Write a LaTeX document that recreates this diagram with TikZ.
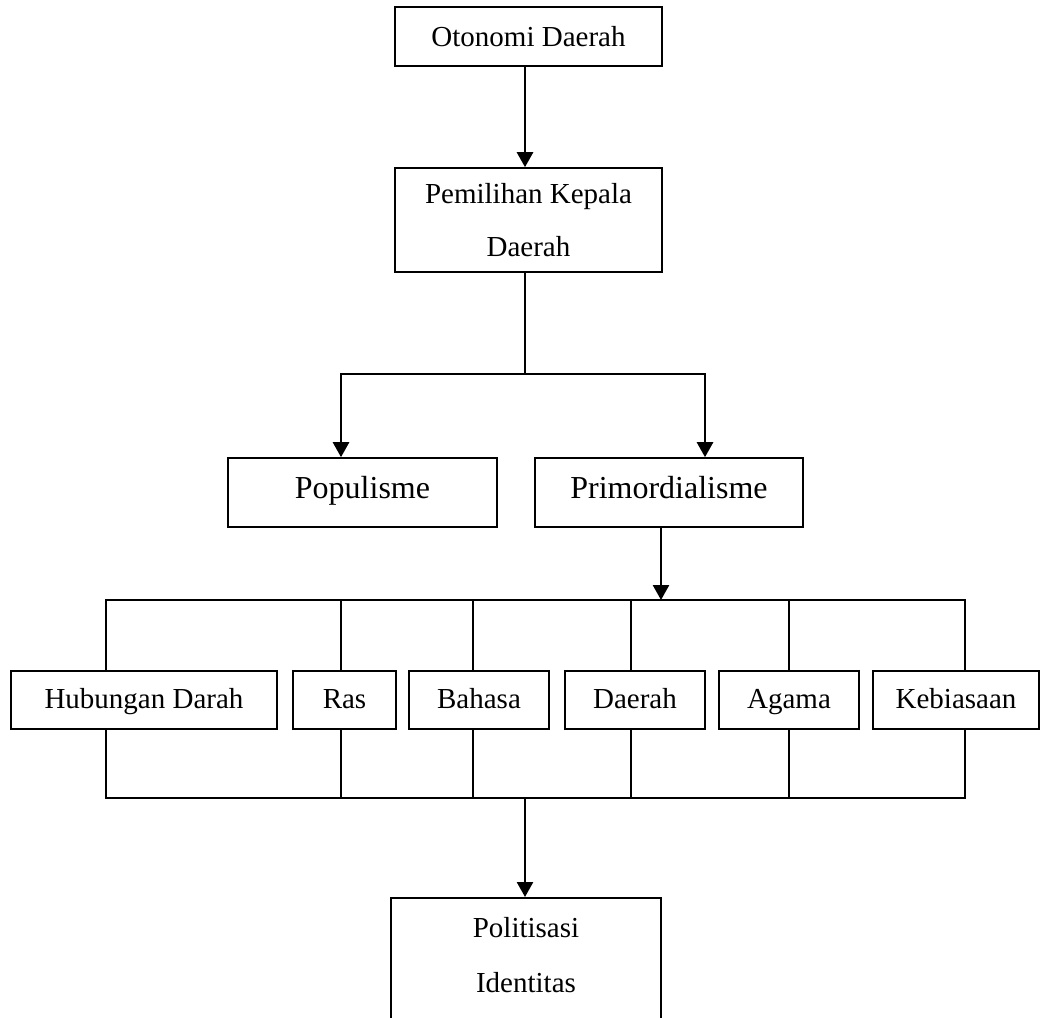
\documentclass[tikz,border=0pt]{standalone}
\usepackage{fontspec}
\setmainfont{Liberation Serif}
\usetikzlibrary{arrows.meta}
\begin{document}
\begin{tikzpicture}[x=1pt,y=-1pt,
  box/.style={draw, line width=1.6pt, inner sep=0pt, align=center, font=\fontsize{29}{53}\selectfont},
  onebox/.style={box, text height=20pt, text depth=4pt},
  bigbox/.style={box, font=\fontsize{32}{38}\selectfont, text height=20pt, text depth=9pt},
  lbl/.style={inner sep=0pt, font=\fontsize{29}{53}\selectfont},
  conn/.style={line width=1.6pt, line cap=rect},
  arr/.style={line width=2.6pt, -{Triangle[width=16pt,length=15pt]}}]
\useasboundingbox (0,0) rectangle (1040,1017);
\clip (0,0) rectangle (1040,1017);

% boxes
\node[box, text height=20pt, text depth=1pt, minimum width=267pt, minimum height=59pt] (od) at (528.5,36.5) {Otonomi Daerah};
\node[box, minimum width=267pt, minimum height=104pt] (pk) at (528.5,220) {Pemilihan Kepala\\Daerah};
\node[bigbox, minimum width=269pt, minimum height=69pt] (pop) at (362.5,492.5) {Populisme};
\node[bigbox, minimum width=268pt, minimum height=69pt] (pri) at (669,492.5) {Primordialisme};

\node[onebox, minimum width=266pt, minimum height=58pt] (hd) at (144,700) {Hubungan Darah};
\node[onebox, minimum width=103pt, minimum height=58pt] (ras) at (344.5,700) {Ras};
\node[onebox, minimum width=140pt, minimum height=58pt] (bhs) at (479,700) {Bahasa};
\node[onebox, minimum width=140pt, minimum height=58pt] (drh) at (635,700) {Daerah};
\node[onebox, minimum width=140pt, minimum height=58pt] (agm) at (789,700) {Agama};
\node[onebox, minimum width=166pt, minimum height=58pt] (keb) at (956,700) {Kebiasaan};

\node[box, minimum width=270pt, minimum height=200pt, anchor=north] (pi) at (526,897) {};
\node[lbl, anchor=base] (pi1) at (526,937) {Politisasi};
\node[lbl, anchor=base] (pi2) at (526,992) {Identitas};

% connectors
\coordinate (mx) at (525,0);
\coordinate (split) at (525,374);
\coordinate (sl) at (341,374);
\coordinate (sr) at (705,374);
\draw[arr] (od.south -| mx) -- (pk.north -| mx);
\draw[conn] (pk.south -| mx) -- (split);
\draw[conn] (sl) -- (sr);
\draw[arr] (sl) -- (pop.north -| sl);
\draw[arr] (sr) -- (pri.north -| sr);

\coordinate (tb) at (661,600);
\draw[arr] (pri.south -| tb) -- (tb);

\foreach \n/\x in {hd/106, ras/341, bhs/473, drh/631, agm/789, keb/965} {
  \coordinate (t\n) at (\x,600);
  \coordinate (b\n) at (\x,798);
  \draw[conn] (t\n) -- (\n.north -| t\n);
  \draw[conn] (\n.south -| b\n) -- (b\n);
}
\draw[conn] (thd) -- (tkeb);
\draw[conn] (bhd) -- (bkeb);

\coordinate (bm) at (525,798);
\draw[arr] (bm) -- (pi.north -| bm);
\end{tikzpicture}
\end{document}
